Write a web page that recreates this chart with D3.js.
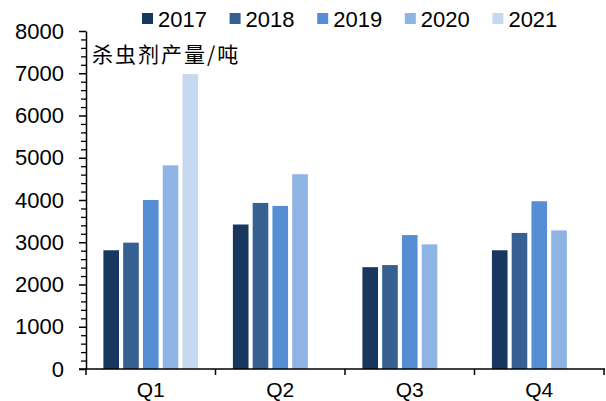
<!DOCTYPE html>
<html><head><meta charset="utf-8">
<script src="https://cdn.jsdelivr.net/npm/d3@7/dist/d3.min.js"></script>
<style>
body{margin:0;background:#fff;}
text{font-family:"Liberation Sans",Arial,sans-serif;fill:#000;}
</style></head>
<body><svg id="c" width="606" height="401"></svg>
<script>
// Quarterly insecticide output (tonnes)
const quarters = ["Q1","Q2","Q3","Q4"];
const years = ["2017","2018","2019","2020","2021"];
const v2017 = [2810, 3420, 2410, 2810];
const v2018 = [2990, 3930, 2460, 3220];
const v2019 = [4000, 3860, 3170, 3970];
const v2020 = [4820, 4610, 2950, 3280];
const v2021 = [6980, null, null, null];
const yTicks = [0,1000,2000,3000,4000,5000,6000,7000,8000];
const colors = ["#17375e","#366092","#558ed5","#8eb4e3","#c6d9f1"];
const seriesVals = [v2017, v2018, v2019, v2020, v2021];

const svg = d3.select("#c");
const m = {l:86, r:604, t:31, b:369};

const x = d3.scaleBand().domain(quarters).range([m.l, m.r]).paddingInner(0).paddingOuter(0);
const xs = d3.scaleBand().domain(years).range([0, x.bandwidth()]).paddingInner(0.21).paddingOuter(0.88);
const y = d3.scaleLinear().domain([0,8000]).range([m.b, m.t]);

// bars
years.forEach((yr, i) => {
  const data = quarters.map((q, j) => ({q, v: seriesVals[i][j]})).filter(d => d.v != null);
  svg.append("g").selectAll("rect").data(data).join("rect")
    .attr("x", d => x(d.q) + xs(yr))
    .attr("width", xs.bandwidth())
    .attr("y", d => y(d.v))
    .attr("height", d => y(0) - y(d.v))
    .attr("fill", colors[i]);
});

// y axis: minor ticks
const minor = d3.range(0, 8001, 200).filter(v => v % 1000 !== 0);
svg.append("g").attr("transform", `translate(${m.l},0)`)
  .call(d3.axisLeft(y).tickValues(minor).tickSize(5).tickFormat(""))
  .call(g => g.select(".domain").remove())
  .call(g => g.selectAll("line").attr("stroke","#000").attr("stroke-width",1.3));
// y axis: major ticks and labels
svg.append("g").attr("transform", `translate(${m.l},0)`)
  .call(d3.axisLeft(y).tickValues(yTicks).tickSize(7).tickPadding(15).tickSizeOuter(0).tickFormat(d3.format("d")))
  .call(g => g.select(".domain").attr("stroke","#000").attr("stroke-width",1.5))
  .call(g => g.selectAll("line").attr("stroke","#000").attr("stroke-width",1.5))
  .call(g => g.selectAll("text").attr("font-size","22px").attr("font-family","Liberation Sans, Arial, sans-serif").attr("fill","#000"));

// x axis
const xg = svg.append("g").attr("transform", `translate(0,${m.b})`);
xg.append("line").attr("x1", m.l - 7).attr("x2", m.r + 1).attr("y1", 0).attr("y2", 0)
  .attr("stroke","#000").attr("stroke-width",1.5);
const bounds = quarters.map(q => x(q)).concat([m.r]);
xg.selectAll("line.tk").data(bounds).join("line").attr("class","tk")
  .attr("x1", d => d).attr("x2", d => d).attr("y1", 0).attr("y2", 6)
  .attr("stroke","#000").attr("stroke-width",1.5);
xg.selectAll("text").data(quarters).join("text")
  .attr("x", d => x(d) + x.bandwidth()/2).attr("y", 28)
  .attr("text-anchor","middle").attr("font-size","21px").text(d => d);

// unit label
svg.append("text").attr("x", 92).attr("y", 62)
  .attr("font-size","21px").attr("letter-spacing","2px")
  .style("font-family","'Noto Sans CJK SC', sans-serif")
  .text("杀虫剂产量/吨");

// legend
const lg = svg.append("g");
years.forEach((yr, i) => {
  const lx = 142 + i * 87.6;
  lg.append("rect").attr("x", lx).attr("y", 13).attr("width", 11).attr("height", 11).attr("fill", colors[i]);
  lg.append("text").attr("x", lx + 16).attr("y", 27).attr("font-size","22px").text(yr);
});
</script></body></html>
